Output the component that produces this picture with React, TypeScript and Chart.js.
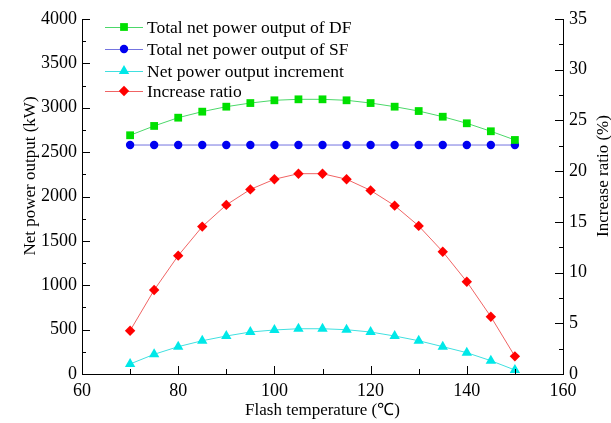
import { useEffect, useRef } from 'react';
import { Chart, registerables } from 'chart.js';
Chart.register(...registerables);

const temperatures = [70, 75, 80, 85, 90, 95, 100, 105, 110, 115, 120, 125, 130, 135, 140, 145, 150];
const dfOutput = [2690, 2795, 2888, 2956, 3012, 3053, 3084, 3095, 3095, 3084, 3053, 3012, 2963, 2899, 2825, 2735, 2637];
const sfOutput = [2580, 2580, 2580, 2580, 2580, 2580, 2580, 2580, 2580, 2580, 2580, 2580, 2580, 2580, 2580, 2580, 2580];
const increment = [113, 222, 308, 375, 428, 473, 496, 510, 510, 499, 473, 428, 375, 308, 240, 150, 45];
const increaseRatio = [4.27, 8.28, 11.67, 14.53, 16.67, 18.2, 19.2, 19.75, 19.75, 19.2, 18.1, 16.6, 14.6, 12.06, 9.1, 5.65, 1.74];

const seriesLabels = [
  'Total net power output of DF',
  'Total net power output of SF',
  'Net power output increment',
  'Increase ratio',
];
const xTitle = 'Flash temperature (\u2103)';
const yTitle = 'Net power output (kW)';
const y1Title = 'Increase ratio (%)';

const FONT = '"Liberation Serif", "Times New Roman", serif';

function drawMarker(ctx: CanvasRenderingContext2D, style: string, x: number, y: number, r: number, color: string) {
  ctx.save();
  ctx.fillStyle = color;
  ctx.beginPath();
  if (style === 'rect') {
    const s = Math.SQRT1_2 * r;
    ctx.rect(x - s, y - s, 2 * s, 2 * s);
  } else if (style === 'circle') {
    ctx.arc(x, y, r, 0, Math.PI * 2);
  } else if (style === 'triangle') {
    for (let i = 0; i < 3; i++) {
      const a = (i * 2 * Math.PI) / 3;
      const px = x + Math.sin(a) * r;
      const py = y - Math.cos(a) * r;
      if (i === 0) ctx.moveTo(px, py); else ctx.lineTo(px, py);
    }
    ctx.closePath();
  } else {
    ctx.moveTo(x - r, y);
    ctx.lineTo(x, y - r);
    ctx.lineTo(x + r, y);
    ctx.lineTo(x, y + r);
    ctx.closePath();
  }
  ctx.fill();
  ctx.restore();
}

const decorPlugin = {
  id: 'decor',
  afterDraw(chart: any) {
    const ctx: CanvasRenderingContext2D = chart.ctx;
    const area = chart.chartArea;
    const xs = chart.scales.x;
    const ys = chart.scales.y;
    const y1s = chart.scales.y1;
    ctx.save();
    ctx.strokeStyle = '#000';
    ctx.lineWidth = 1;
    ctx.beginPath();
    for (let v = 60; v <= 160; v += 10) {
      const px = Math.round(xs.getPixelForValue(v)) + 0.5;
      const len = v % 20 === 0 ? 8 : 5;
      ctx.moveTo(px, area.bottom);
      ctx.lineTo(px, area.bottom - len);
    }
    for (let v = 0; v <= 4000; v += 250) {
      const py = Math.round(ys.getPixelForValue(v)) + 0.5;
      const len = v % 500 === 0 ? 8 : 4;
      ctx.moveTo(area.left, py);
      ctx.lineTo(area.left + len, py);
    }
    for (let v = 0; v <= 35; v += 2.5) {
      const py = Math.round(y1s.getPixelForValue(v)) + 0.5;
      const len = v % 5 === 0 ? 8 : 4;
      ctx.moveTo(area.right, py);
      ctx.lineTo(area.right - len, py);
    }
    ctx.stroke();

    ctx.fillStyle = '#000';
    ctx.font = '17px ' + FONT;
    ctx.textAlign = 'center';
    ctx.textBaseline = 'middle';
    ctx.fillText(xTitle, (area.left + area.right) / 2, 411);
    ctx.save();
    ctx.translate(31, 176);
    ctx.rotate(-Math.PI / 2);
    ctx.fillText(yTitle, 0, 0);
    ctx.restore();
    ctx.save();
    ctx.translate(604, 176);
    ctx.rotate(-Math.PI / 2);
    ctx.fillText(y1Title, 0, 0);
    ctx.restore();

    const legendY = [27, 49, 71, 91];
    chart.data.datasets.forEach((ds: any, i: number) => {
      const y = legendY[i];
      ctx.strokeStyle = ds.borderColor;
      ctx.lineWidth = 1;
      ctx.beginPath();
      ctx.moveTo(105, y + 0.5);
      ctx.lineTo(143, y + 0.5);
      ctx.stroke();
      drawMarker(ctx, ds.pointStyle, 124, y, ds.pointRadius, ds.pointBackgroundColor);
      ctx.fillStyle = '#000';
      ctx.textAlign = 'left';
      ctx.textBaseline = 'middle';
      ctx.font = '17.5px ' + FONT;
      ctx.fillText(ds.label, 147, y + 1);
    });
    ctx.restore();
  },
};

export default function App() {
  const ref = useRef<HTMLCanvasElement | null>(null);
  useEffect(() => {
    document.body.style.margin = '0';
    const canvas = ref.current!;
    const mk = (vals: number[]) => temperatures.map((t, i) => ({ x: t, y: vals[i] }));
    const plain = (v: any) => String(v);
    const chart = new Chart(canvas, {
      type: 'line',
      data: {
        datasets: [
          {
            label: seriesLabels[0], data: mk(dfOutput), yAxisID: 'y',
            borderColor: '#4cd86a', borderWidth: 1, pointStyle: 'rect', pointRadius: 5.5,
            pointBackgroundColor: '#00e000', pointBorderWidth: 0, pointBorderColor: '#00e000',
          },
          {
            label: seriesLabels[1], data: mk(sfOutput), yAxisID: 'y',
            borderColor: '#7474e0', borderWidth: 1, pointStyle: 'circle', pointRadius: 4.2,
            pointBackgroundColor: '#0000f0', pointBorderWidth: 0, pointBorderColor: '#0000f0',
          },
          {
            label: seriesLabels[2], data: mk(increment), yAxisID: 'y',
            borderColor: '#40e0e0', borderWidth: 1, pointStyle: 'triangle', pointRadius: 6,
            pointBackgroundColor: '#00e8e8', pointBorderWidth: 0, pointBorderColor: '#00e8e8',
          },
          {
            label: seriesLabels[3], data: mk(increaseRatio), yAxisID: 'y1',
            borderColor: '#f06464', borderWidth: 1, pointStyle: 'rectRot', pointRadius: 5.2,
            pointBackgroundColor: '#ff0000', pointBorderWidth: 0, pointBorderColor: '#ff0000',
          },
        ] as any,
      },
      options: {
        responsive: false,
        animation: false,
        clip: false as any,
        layout: { padding: { top: 19, left: 0, right: 0, bottom: 0 } },
        plugins: { legend: { display: false }, tooltip: { enabled: false } },
        elements: { line: { tension: 0 } },
        scales: {
          x: {
            type: 'linear', min: 60, max: 160,
            grid: { display: false, drawTicks: false },
            border: { display: true, color: '#000', width: 1 },
            ticks: { stepSize: 20, padding: 6, color: '#000', font: { family: FONT, size: 18 }, maxRotation: 0, callback: plain },
            afterFit: (s: any) => { s.height = 49; },
          },
          y: {
            type: 'linear', position: 'left', min: 0, max: 4000,
            grid: { display: false, drawTicks: false },
            border: { display: true, color: '#000', width: 1 },
            ticks: { stepSize: 500, padding: 5, color: '#000', font: { family: FONT, size: 18 }, callback: plain },
            afterFit: (s: any) => { s.width = 82; },
          },
          y1: {
            type: 'linear', position: 'right', min: 0, max: 35,
            grid: { display: false, drawTicks: false },
            border: { display: true, color: '#000', width: 1 },
            ticks: { stepSize: 5, padding: 6, color: '#000', font: { family: FONT, size: 18 }, callback: plain },
            afterFit: (s: any) => { s.width = 48; },
          },
        },
      } as any,
      plugins: [decorPlugin],
    });
    return () => chart.destroy();
  }, []);
  return (
    <div style={{ width: 611, height: 423, position: 'relative', background: '#fff' }}>
      <canvas ref={ref} width={611} height={423} style={{ display: 'block' }} />
    </div>
  );
}
